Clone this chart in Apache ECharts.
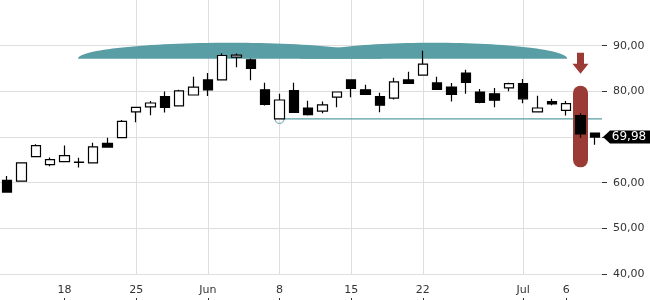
<!DOCTYPE html>
<html>
<head>
<meta charset="utf-8">
<script src="https://cdn.jsdelivr.net/npm/echarts@6/dist/echarts.min.js"></script>
<style>
html, body { margin: 0; padding: 0; background: #fff; }
#chart { width: 650px; height: 300px; }
</style>
</head>
<body>
<div id="chart"></div>
<script>
// trading days shown on the chart
var dates = [
    '2020-05-12', '2020-05-13', '2020-05-14', '2020-05-15',
    '2020-05-18', '2020-05-19', '2020-05-20', '2020-05-21', '2020-05-22',
    '2020-05-25', '2020-05-26', '2020-05-27', '2020-05-28', '2020-05-29',
    '2020-06-01', '2020-06-02', '2020-06-03', '2020-06-04', '2020-06-05',
    '2020-06-08', '2020-06-09', '2020-06-10', '2020-06-11', '2020-06-12',
    '2020-06-15', '2020-06-16', '2020-06-17', '2020-06-18', '2020-06-19',
    '2020-06-22', '2020-06-23', '2020-06-24', '2020-06-25', '2020-06-26',
    '2020-06-29', '2020-06-30', '2020-07-01', '2020-07-02', '2020-07-03',
    '2020-07-06', '2020-07-07', '2020-07-08'
];
var openData = [
    60.5, 60.35, 65.7, 63.95, 64.6, 64.45, 64.35, 68.6, 69.85,
    75.5, 76.6, 78.85, 76.8, 79.2, 82.5, 82.5, 87.5, 86.9, 80.35,
    73.95, 80.15, 76.35, 75.65, 78.75, 82.5, 80.35, 78.85, 78.5, 82.5,
    83.55, 81.85, 80.95, 84.0, 79.85, 79.45, 80.75, 81.7, 75.5, 77.75,
    75.85, 74.7, 70.85
];
var closeData = [
    57.95, 64.35, 68.1, 65.05, 65.9, 64.5, 67.85, 67.8, 73.4,
    76.5, 77.45, 76.5, 80.1, 80.9, 80.3, 87.85, 87.95, 85.0, 77.15,
    78.1, 75.4, 74.9, 77.05, 79.85, 80.65, 79.35, 76.95, 82.05, 81.75,
    85.95, 80.45, 79.35, 81.95, 77.6, 78.05, 81.7, 78.35, 76.35, 77.25,
    77.3, 70.7, 69.98
];
var lowData = [
    57.9, 60.3, 65.6, 63.6, 64.55, 63.3, 64.3, 67.75, 69.8,
    73.25, 74.75, 75.35, 76.75, 79.15, 79.0, 82.45, 85.25, 82.4, 76.9,
    73.95, 75.35, 74.7, 75.2, 76.5, 78.7, 79.3, 75.4, 78.2, 81.7,
    83.5, 80.4, 77.8, 79.45, 77.4, 76.5, 80.0, 77.4, 75.45, 76.95,
    74.7, 69.85, 68.3
];
var highData = [
    61.45, 64.4, 68.4, 65.5, 68.15, 65.45, 68.75, 69.85, 73.75,
    76.55, 77.9, 79.95, 80.35, 83.2, 84.0, 88.35, 88.3, 87.2, 81.9,
    79.45, 81.9, 77.95, 77.75, 79.9, 82.55, 81.45, 79.7, 83.0, 84.3,
    88.9, 83.2, 81.85, 84.75, 80.5, 80.75, 81.9, 82.7, 79.05, 78.35,
    77.9, 75.2, 70.9
];

// x tick labels
var tickDates = ['2020-05-18', '2020-05-25', '2020-06-01', '2020-06-08', '2020-06-15', '2020-06-22', '2020-07-01', '2020-07-06'];
var tickLabels = ['18', '25', 'Jun', '8', '15', '22', 'Jul', '6'];

// drawn annotations, in chart units: [from index, to index, low price, high price]
var resistanceZone = [[4.94, 26.16, 87.13, 90.62], [20.43, 39.07, 87.13, 90.62]];
// support line: [start index, price]
var supportLine = [[19, 73.95]];
// signal on 7 July: [index, arrow top, arrow bottom, pill top, pill bottom]
var signalMark = [[40, 88.44, 83.86, 81.24, 63.35]];

var teal = '#5a9ea5';
var red = '#9b3b36';

var candleData = dates.map(function (d, i) {
    return [openData[i], closeData[i], lowData[i], highData[i]];
});

function isTick(index, value) {
    return tickDates.indexOf(value) >= 0;
}

// pixel point for a (possibly fractional) category index and a price
function pt(api, i, p) {
    var base = Math.floor(i);
    var c = api.coord([base, p]);
    var w = api.size([1, 0])[0];
    return [c[0] + (i - base) * w, c[1]];
}

var chart = echarts.init(document.getElementById('chart'));

var option = {
    animation: false,
    textStyle: { fontFamily: 'DejaVu Sans' },
    grid: { left: 0, right: 48, top: -1, bottom: 26 },
    xAxis: [{
        type: 'category',
        data: dates,
        boundaryGap: true,
        axisLine: { show: false },
        axisTick: { show: false },
        axisLabel: {
            interval: isTick,
            margin: 11,
            fontSize: 11,
            color: '#333',
            formatter: function (v) { return tickLabels[tickDates.indexOf(v)]; }
        },
        splitLine: {
            show: true,
            interval: isTick,
            alignWithLabel: true,
            showMinLine: false,
            showMaxLine: false,
            lineStyle: { color: '#dedede', width: 1 }
        }
    }, {
        type: 'category',
        data: dates,
        position: 'bottom',
        offset: 28,
        axisLine: { show: false },
        axisLabel: { show: false },
        splitLine: { show: false },
        axisTick: {
            show: true,
            inside: true,
            length: 4,
            alignWithLabel: true,
            interval: isTick,
            lineStyle: { color: '#333' }
        }
    }],
    yAxis: {
        type: 'value',
        position: 'right',
        min: 40,
        max: 100,
        interval: 10,
        axisLine: { show: false },
        axisTick: { show: true, length: 5, lineStyle: { color: '#333' } },
        axisLabel: {
            margin: 11,
            fontSize: 11,
            color: '#333',
            showMaxLabel: false,
            formatter: function (v) { return v.toFixed(2).replace('.', ','); }
        },
        splitLine: { showMaxLine: false, lineStyle: { color: '#dedede', width: 1 } }
    },
    series: [{
        type: 'custom',
        z: 1,
        data: resistanceZone,
        encode: { x: 0, y: 2 },
        renderItem: function (params, api) {
            var a = pt(api, api.value(0), api.value(2));
            var b = pt(api, api.value(1), api.value(3));
            var x0 = a[0], x1 = b[0], yb = a[1], yt = b[1];
            var cx = (x0 + x1) / 2, rx = (x1 - x0) / 2, h = yb - yt, k = 0.5523;
            var d = 'M' + x0 + ',' + yb +
                ' C' + x0 + ',' + (yb - k * h) + ' ' + (cx - k * rx) + ',' + yt + ' ' + cx + ',' + yt +
                ' C' + (cx + k * rx) + ',' + yt + ' ' + x1 + ',' + (yb - k * h) + ' ' + x1 + ',' + yb + ' Z';
            return {
                type: 'path',
                shape: { pathData: d },
                style: { fill: teal }
            };
        }
    }, {
        type: 'custom',
        z: 1,
        data: supportLine,
        encode: { x: 0, y: 1 },
        renderItem: function (params, api) {
            var p = pt(api, api.value(0), api.value(1));
            var right = params.coordSys.x + params.coordSys.width;
            return {
                type: 'group',
                children: [{
                    type: 'line',
                    shape: { x1: p[0] + 5, y1: p[1], x2: right, y2: p[1] },
                    style: { stroke: teal, lineWidth: 1.3 }
                }, {
                    type: 'arc',
                    shape: { cx: p[0], cy: p[1], r: 4.5, startAngle: 0, endAngle: Math.PI, clockwise: true },
                    style: { stroke: teal, fill: null, lineWidth: 1 }
                }]
            };
        }
    }, {
        type: 'custom',
        z: 1,
        data: signalMark,
        encode: { x: 0, y: 1 },
        renderItem: function (params, api) {
            var i = api.value(0);
            var top = pt(api, i, api.value(1));
            var tip = pt(api, i, api.value(2));
            var pTop = pt(api, i, api.value(3));
            var pBot = pt(api, i, api.value(4));
            var cx = top[0], headY = tip[1] - 10;
            return {
                type: 'group',
                children: [{
                    type: 'polygon',
                    shape: {
                        points: [
                            [cx - 3.5, top[1]], [cx + 3.5, top[1]], [cx + 3.5, headY],
                            [cx + 8, headY], [cx, tip[1]], [cx - 8, headY], [cx - 3.5, headY]
                        ]
                    },
                    style: { fill: red }
                }, {
                    type: 'rect',
                    shape: { x: cx - 7.5, y: pTop[1], width: 15, height: pBot[1] - pTop[1], r: 7.5 },
                    style: { fill: red }
                }]
            };
        }
    }, {
        type: 'candlestick',
        z: 2,
        data: candleData,
        barWidth: 10,
        itemStyle: {
            color: '#ffffff',
            color0: '#000000',
            borderColor: '#000000',
            borderColor0: '#000000',
            borderWidth: 1.2
        }
    }, {
        type: 'custom',
        z: 3,
        data: [[dates.length - 1, closeData[closeData.length - 1]]],
        encode: { x: 0, y: 1 },
        renderItem: function (params, api) {
            var p = api.coord([api.value(0), api.value(1)]);
            var x0 = params.coordSys.x + params.coordSys.width + 1;
            var y = p[1];
            return {
                type: 'group',
                children: [{
                    type: 'polygon',
                    shape: { points: [[x0, y], [x0 + 7, y - 6.5], [650, y - 6.5], [650, y + 6.5], [x0 + 7, y + 6.5]] },
                    style: { fill: '#000' }
                }, {
                    type: 'text',
                    style: {
                        text: api.value(1).toFixed(2).replace('.', ','),
                        x: 629, y: y,
                        align: 'center', verticalAlign: 'middle',
                        fill: '#fff', font: '12px "DejaVu Sans"'
                    }
                }]
            };
        }
    }]
};

chart.setOption(option);
</script>
</body>
</html>
